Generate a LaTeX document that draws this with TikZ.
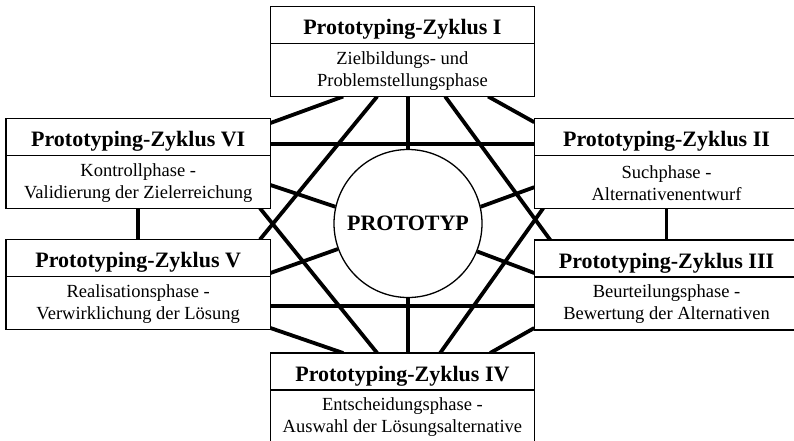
\documentclass[tikz,border=0pt]{standalone}
\usepackage{fontspec}
\setmainfont{Liberation Serif}
\usetikzlibrary{calc,backgrounds}

% one phase box: frame, divider, bold heading and two-line description
\newcommand\zyklusbox[4]{%
  \node[box] (#1) at #2 {};
  \draw[rule] ($(#1.north west)+(0,37)$) -- ($(#1.north east)+(0,37)$);
  \node[head] (#1-h) at ($(#1.north)+(0,28)$) {#3};
  \node[body] (#1-b) at ($(#1.north)+(0,64.5)$) {#4};
}

\begin{document}
\begin{tikzpicture}[x=1pt,y=-1pt,
  box/.style={draw,line width=1.3pt,fill=white,minimum width=264.5pt,
    minimum height=90pt,inner sep=0pt,outer sep=0pt},
  head/.style={font=\fontsize{22}{26}\selectfont\bfseries,inner sep=0pt,anchor=base},
  body/.style={font=\fontsize{18.5}{22}\selectfont,align=center,inner sep=0pt},
  link/.style={line width=3.8pt},
  rule/.style={line width=1.3pt}]

\useasboundingbox (0,0) rectangle (794,440);

% the six cycle phases
\zyklusbox{bI}{(402.4,51.5)}{Prototyping-Zyklus I}{Zielbildungs- und\\Problemstellungsphase}
\zyklusbox{bII}{(666.5,163.2)}{Prototyping-Zyklus II}{Suchphase -\\Alternativenentwurf}
\zyklusbox{bIII}{(666.5,285)}{Prototyping-Zyklus III}{Beurteilungsphase -\\Bewertung der Alternativen}
\zyklusbox{bIV}{(402.4,398)}{Prototyping-Zyklus IV}{Entscheidungsphase -\\Auswahl der Lösungsalternative}
\zyklusbox{bV}{(138.2,284.5)}{Prototyping-Zyklus V}{Realisationsphase -\\Verwirklichung der Lösung}
\zyklusbox{bVI}{(138.2,163.2)}{Prototyping-Zyklus VI}{Kontrollphase -\\Validierung der Zielerreichung}

% the prototype in the middle
\node[draw,circle,line width=1.3pt,minimum size=148pt,inner sep=0pt,fill=white,
  font=\fontsize{22}{26}\selectfont\bfseries] (P) at (408,223.5) {PROTOTYP};

% connections between the phases and to the prototype
\begin{scope}[on background layer]
  % from cycle I
  \draw[link] ($(bI.south west)+(73,0)$) -- ($(bVI.north east)+(0,4.8)$);
  \draw[link] ($(bI.south west)+(107,0)$) -- ($(bV.north east)+(-10.5,0)$);
  \draw[link] (P.north) -- (P.north |- bI.south);
  \draw[link] ($(bI.south west)+(175,0)$) -- ($(bIII.north west)+(16,0)$);
  \draw[link] ($(bI.south west)+(218,0)$) -- ($(bII.north west)+(0,4)$);
  % from cycle VI
  \draw[link] ($(bVI.north east)+(0,26)$) -- ($(bII.north west)+(0,26)$);
  \draw[link] ($(bVI.north east)+(0,66.8)$) -- (P.167);
  \draw[link] ($(bVI.south east)+(-10.5,0)$) -- ($(bIV.north west)+(107,0)$);
  \draw[link] (bVI.south) -- (bV.north);
  % from cycle V
  \draw[link] ($(bV.north east)+(0,33.5)$) -- (P.200);
  \draw[link] ($(bV.south east)+(0,-1.5)$) -- ($(bIV.north west)+(73,0)$);
  \draw[link] ($(bV.north east)+(0,66.5)$) -- ($(bIII.north west)+(0,66)$);
  % from cycle II
  \draw[link] ($(bII.north west)+(0,69)$) -- (P.13);
  \draw[link] ($(bII.south west)+(9,0)$) -- ($(bIV.north west)+(170,0)$);
  \draw[link] (bII.south) -- (bIII.north);
  % from cycle III
  \draw[link] ($(bIII.north west)+(0,33)$) -- (P.338);
  \draw[link] ($(bIII.south west)+(0,-2)$) -- ($(bIV.north west)+(220,0)$);
  % down to cycle IV
  \draw[link] (P.south) -- (P.south |- bIV.north);
\end{scope}

\end{tikzpicture}
\end{document}
